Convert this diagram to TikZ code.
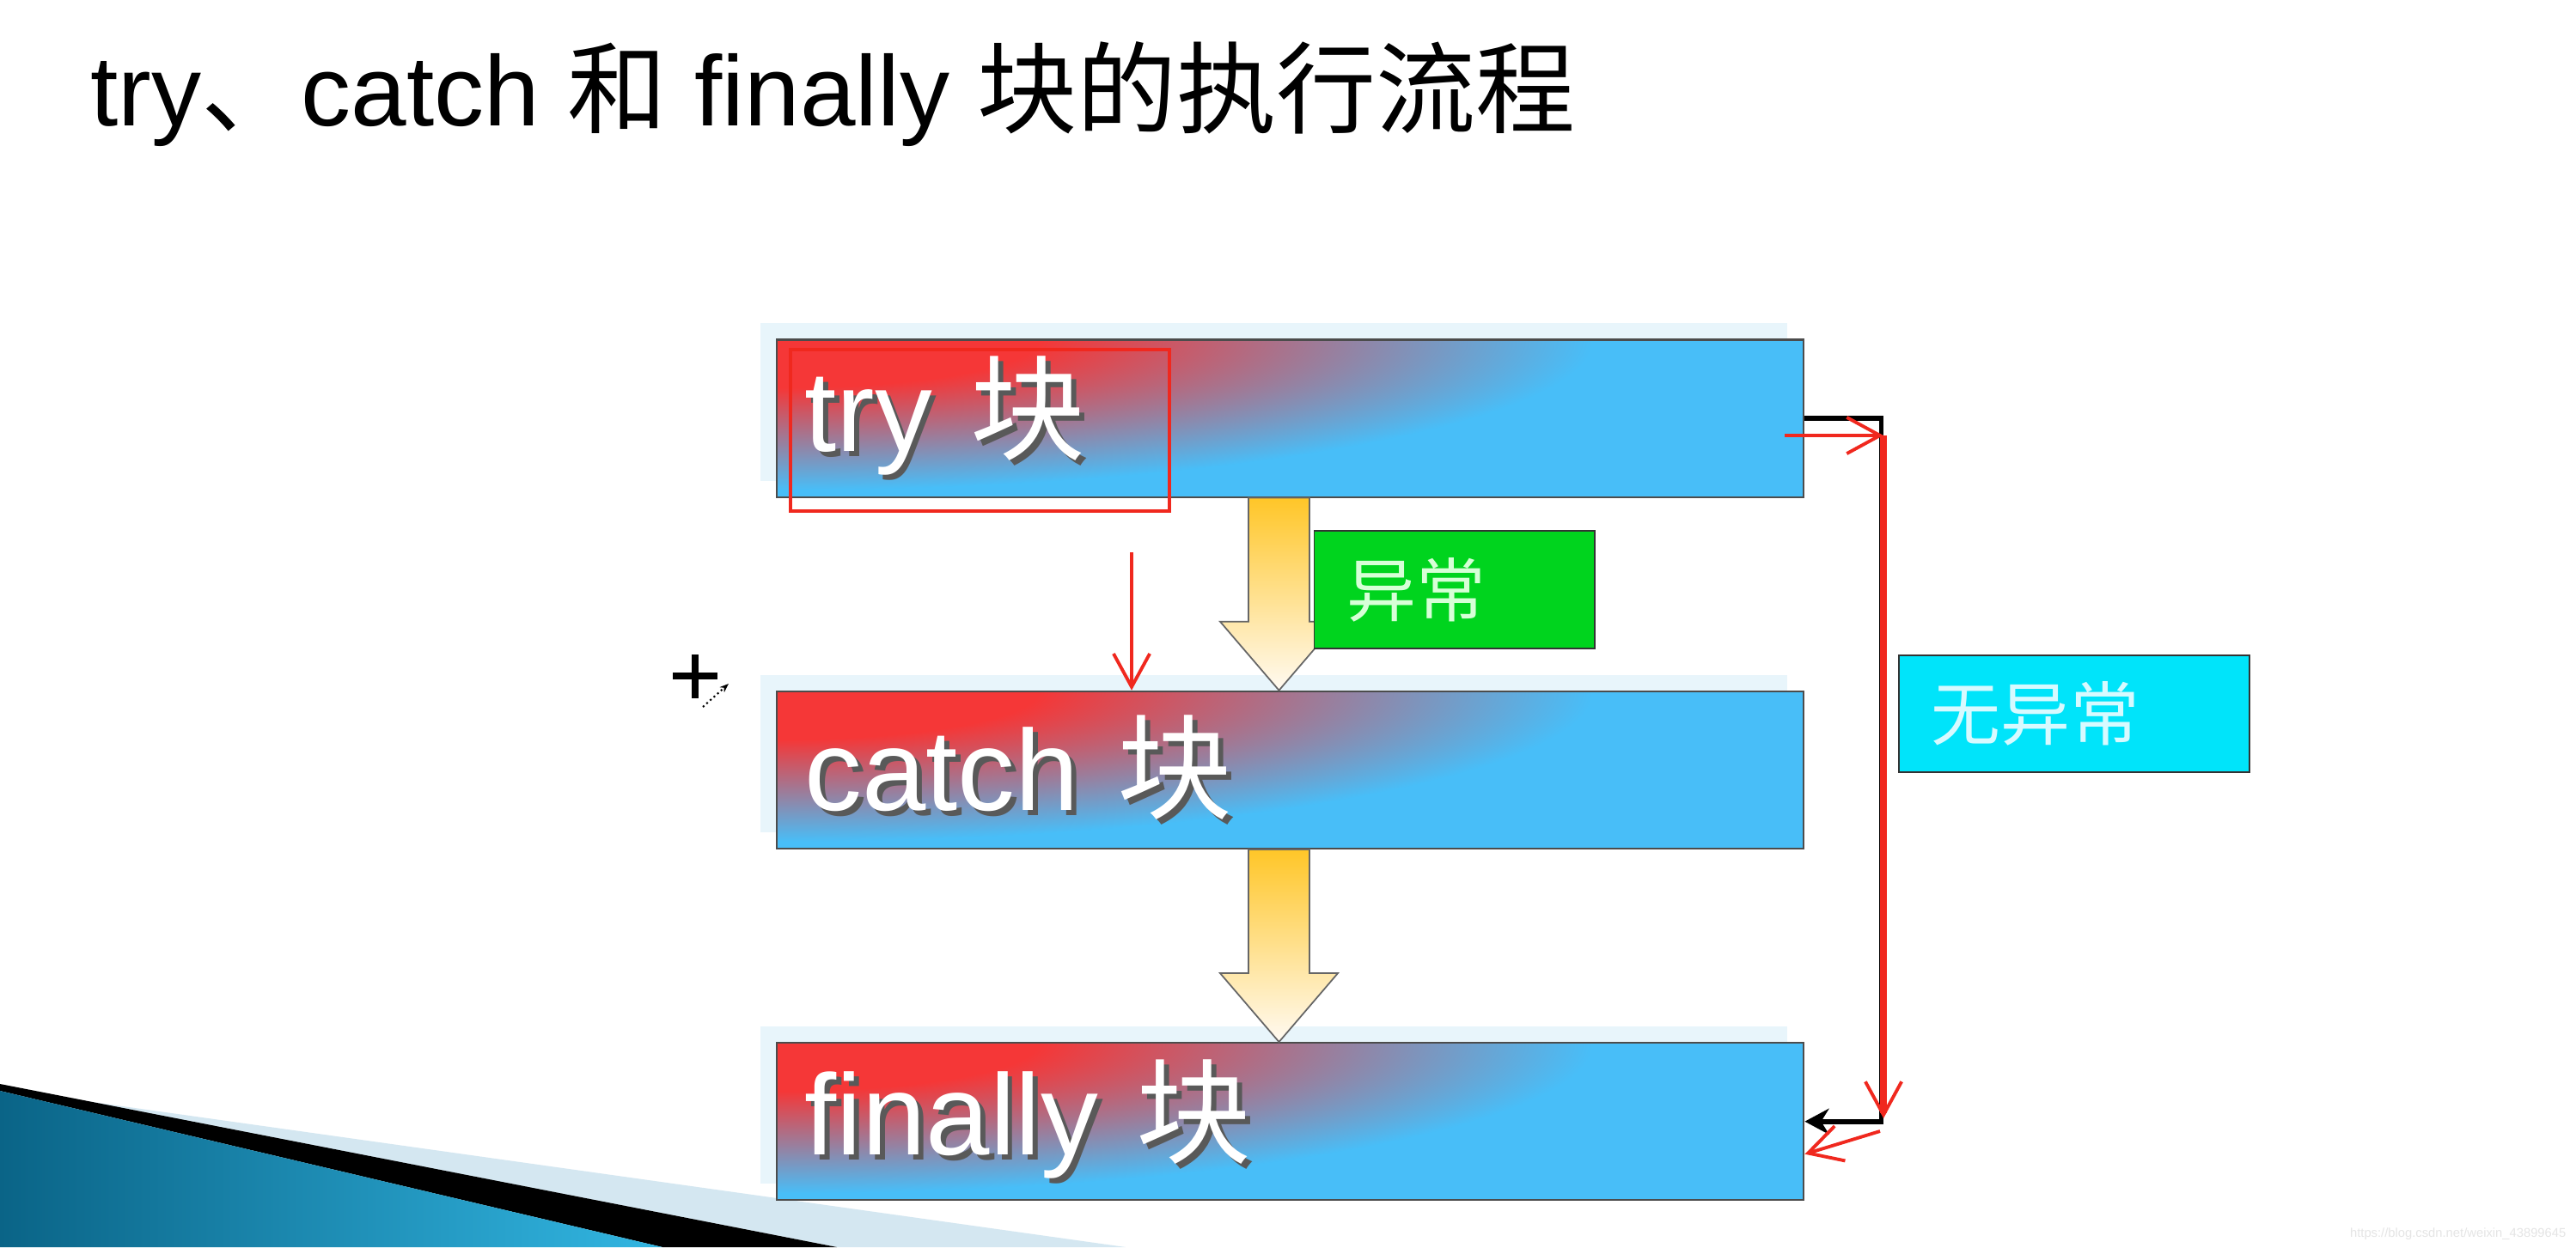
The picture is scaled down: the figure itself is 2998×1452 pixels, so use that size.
\documentclass[tikz,border=0pt]{standalone}
\usepackage{fontspec}
\setmainfont{Liberation Sans}
\newfontfamily\cjk{Noto Sans CJK SC}
\usepackage{xcolor}
\usepackage{tikz}
\usetikzlibrary{positioning, arrows.meta, calc, shadows}

\definecolor{boxred}{RGB}{245,55,55}
\definecolor{boxblue}{RGB}{72,190,248}
\definecolor{paleblue}{RGB}{232,245,251}
\definecolor{arrowgold}{RGB}{255,198,40}
\definecolor{arrowcream}{RGB}{255,250,242}
\definecolor{excgreen}{RGB}{0,212,30}
\definecolor{excwhite}{RGB}{215,255,215}
\definecolor{noexccyan}{RGB}{0,228,250}
\definecolor{noexcwhite}{RGB}{215,250,255}
\definecolor{markred}{RGB}{240,40,30}
\definecolor{wedgedark}{RGB}{10,100,135}
\definecolor{wedgelight}{RGB}{50,182,226}
\definecolor{wedgepale}{RGB}{212,231,241}

\pgfdeclareradialshading{redcorner}{\pgfpoint{0bp}{0bp}}{color(0bp)=(boxred); color(8bp)=(boxred); color(25bp)=(boxblue); color(50bp)=(boxblue)}

\newcommand\shadowed[1]{\makebox[0pt][l]{\kern1.6pt\raisebox{-1.6pt}{\color{black!65}#1}}#1}

\begin{document}
\begin{tikzpicture}[x=0.01cm, y=-0.01cm,
    block/.style={rectangle, draw=black!70, line width=0.6pt, minimum width=11.95cm, minimum height=1.83cm,
      inner xsep=0.33cm, text width=11.29cm, align=left, text=white, font=\fontsize{38}{40}\selectfont,
      general shadow={fill=paleblue, shadow xshift=-1.9mm, shadow yshift=1.9mm},
      path picture={
        \fill[boxblue] (path picture bounding box.south west) rectangle (path picture bounding box.north east);
        \shade[shading=redcorner] (path picture bounding box.north west) ellipse [x radius=9.5cm, y radius=1.75cm];
      }},
    tag/.style={rectangle, draw=black!80, line width=0.5pt, inner xsep=0.38cm, align=left, minimum height=1.37cm,
      font=\fontsize{23}{25}\selectfont\cjk},
    flowarrow/.style={draw=black!60, line width=0.5pt, top color=arrowgold, bottom color=arrowcream},
    flowline/.style={line width=1.6pt, -{Stealth[length=8pt, width=8.5pt]}},
    redmark/.style={draw=markred, line width=1.1pt, -{Straight Barb[length=11pt, width=12pt, line width=1.1pt]}}]

    % Page
    \fill[white] (0,0) rectangle (2998,1452);
    \useasboundingbox (0,0) rectangle (2998,1452);

    % Slide decoration
    \fill[wedgepale] (100,1282) -- (1310,1452) -- (974,1452) -- cycle;
    \fill[black] (0,1262) -- (974,1452) -- (771,1452) -- (0,1270) -- cycle;
    \shade[left color=wedgedark, right color=wedgelight] (0,1270) -- (771,1452) -- (0,1452) -- cycle;

    % Title
    \node[anchor=base west, inner sep=0pt, font=\fontsize{33}{36}\selectfont] (title) at (105,147)
      {try{\cjk 、}catch {\cjk 和} finally {\cjk 块的执行流程}};

    % Blocks
    \node[block] (try) at (1501.5,487) {\shadowed{try {\cjk 块}}};
    \node[block, below=2.24cm of try] (catch) {\shadowed{catch {\cjk 块}}};
    \node[block, below=2.24cm of catch] (fin) {\shadowed{finally {\cjk 块}}};

    % Block arrows
    \foreach \a/\b in {try/catch, catch/fin}
      \draw[flowarrow] let \p1=($(\a.south)+(-13,0)$), \p2=($(\b.north)+(-13,0)$) in
        (\x1-0.355cm,\y1) -- (\x1+0.355cm,\y1) -- (\x1+0.355cm,\y2+0.8cm) -- (\x1+0.685cm,\y2+0.8cm)
        -- (\x1,\y2) -- (\x1-0.685cm,\y2+0.8cm) -- (\x1-0.355cm,\y2+0.8cm) -- cycle;

    % Labels
    \node[tag, fill=excgreen, text=excwhite, text width=2.5cm] (exc) at (1692.5,686.5) {异常};
    \node[tag, fill=noexccyan, text=noexcwhite, text width=3.32cm, minimum height=1.36cm] (noexc) at (2414,831) {无异常};

    % No exception path
    \draw[flowline] (try.east) -- ++(89,0) |- (fin.east);

    % Red marks
    \draw[markred, line width=0.9pt] (920,407) rectangle (1361,595);
    \coordinate (hint) at (1317,643);
    \draw[redmark] (hint) -- (hint |- catch.north);
    \coordinate (r0) at (2077,507);
    \coordinate (r1) at (2192,507);
    \coordinate (r2) at (2192,1302);
    \coordinate (r3) at (2188,1317);
    \draw[redmark] (r0) -- (r1);
    \draw[redmark, line width=2.3pt] (r1) -- (r2);
    \draw[redmark] (r3) -- ($(fin.east)+(0,38)$);

    % Cursor
    \draw[line width=2pt] (783,787) -- (835,787) (809,762) -- (809,813);
    \draw[densely dotted, line width=0.6pt, -{Stealth[length=3pt]}] (818,823) -- (848,796);

    % Watermark
    \node[anchor=base east, inner sep=0pt, text=black!10, font=\fontsize{4.2}{5}\selectfont] (wm) at (2987,1440)
      {https://blog.csdn.net/weixin\_43899645};
\end{tikzpicture}
\end{document}
